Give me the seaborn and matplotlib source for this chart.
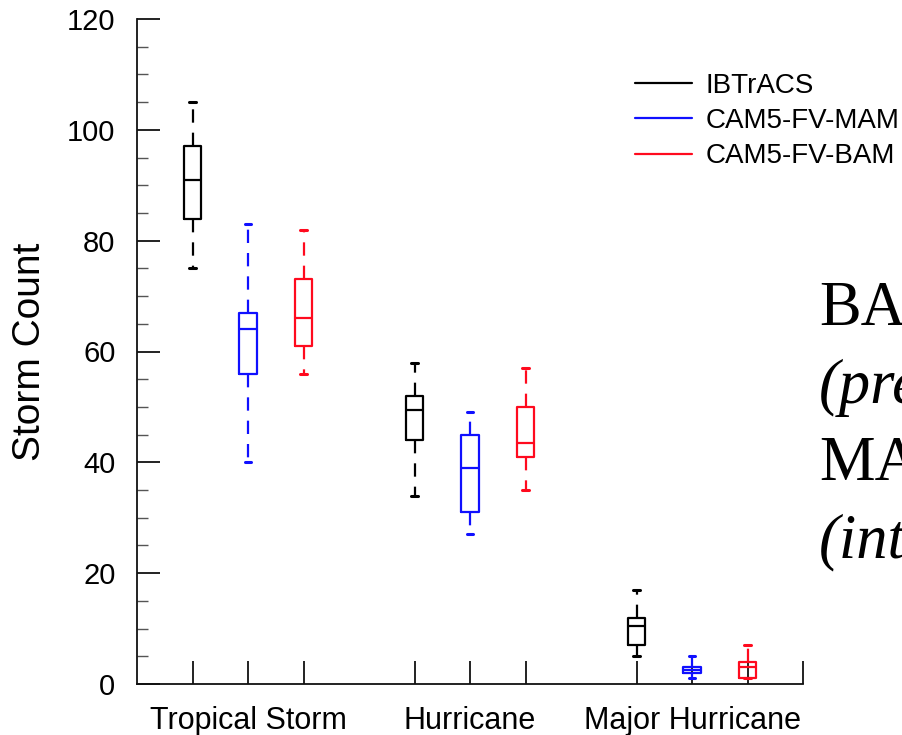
import numpy as np
import pandas as pd
import matplotlib
matplotlib.use("Agg")
import matplotlib.pyplot as plt
from matplotlib.lines import Line2D
import seaborn as sns

# summary stats (whisker low, q1, median, q3, whisker high)
categories = ["Tropical Storm", "Hurricane", "Major Hurricane"]
datasets = ["IBTrACS", "CAM5-FV-MAM", "CAM5-FV-BAM"]
colors = ["black", "#1010ff", "#ff0a1e"]

ibtracs_stats = [[75, 84, 91, 97, 105], [34, 44, 49.5, 52, 58], [5, 7, 10.5, 12, 17]]
mam_stats = [[40, 56, 64, 67, 83], [27, 31, 39, 45, 49], [1, 2, 2.5, 3, 5]]
bam_stats = [[56, 61, 66, 73, 82], [35, 41, 43.5, 50, 57], [1, 1, 3, 4, 7]]

rows = []
for name, stats in zip(datasets, [ibtracs_stats, mam_stats, bam_stats]):
    for cat, five in zip(categories, stats):
        for v in five:
            rows.append({"category": cat, "dataset": name, "count": v})
df = pd.DataFrame(rows)

sns.set_style("ticks")
plt.rcParams["font.family"] = ["Liberation Sans", "DejaVu Sans"]
plt.rcParams["text.color"] = "black"
plt.rcParams["axes.labelcolor"] = "black"
plt.rcParams["xtick.color"] = "black"
plt.rcParams["ytick.color"] = "black"

fig = plt.figure(figsize=(9.02, 7.35), dpi=100)
ax = fig.add_axes([137 / 902, 51 / 735, 666 / 902, 665 / 735])

sns.boxplot(data=df, x="category", y="count", hue="dataset", order=categories,
            hue_order=datasets, palette=colors, whis=(0, 100), fill=False,
            width=0.75, gap=0.69, linewidth=1.6, legend=False, capwidths=0.03,
            whiskerprops=dict(linestyle=(0, (6, 4.5))),
            capprops=dict(linewidth=2.2), ax=ax)

ax.set_xlim(-0.5, 2.5)
ax.set_ylim(0, 120)
sns.despine(ax=ax)
for s in ["left", "bottom"]:
    ax.spines[s].set_linewidth(1.3)
    ax.spines[s].set_color("#111111")

ax.set_xticks([0, 1, 2])
ax.set_xticklabels(categories, fontsize=22)
ax.set_xticks([-0.25, 0.25, 0.75, 1.25, 1.75, 2.25, 2.5], minor=True)
ax.tick_params(axis="x", which="both", direction="in", length=16.5, width=1.3,
               color="#111111", pad=16)
ax.set_yticks(np.arange(0, 121, 20))
ax.set_yticks(np.arange(0, 121, 5), minor=True)
ax.tick_params(axis="y", which="major", direction="in", length=16.5, width=1.3,
               color="#111111", labelsize=21, pad=15.5)
ax.tick_params(axis="y", which="minor", direction="in", length=8, width=1,
               color="#555555")
ax.set_xlabel("")
ax.set_ylabel("Storm Count", fontsize=28, labelpad=14)

handles = [Line2D([], [], color=c, lw=1.6) for c in colors]
ax.legend(handles, datasets, loc="upper left", bbox_to_anchor=(635 / 902, 1 - 73 / 735),
          bbox_transform=fig.transFigure, frameon=False, fontsize=20,
          handlelength=2.05, handletextpad=0.5, borderpad=0, borderaxespad=0,
          labelspacing=0.33)

# annotation text on the right (cut off by the figure edge, as in the source)
serif = ["Liberation Serif", "DejaVu Serif"]
notes = [("BA", "normal", 325), ("(pre", "italic", 402.5), ("MA", "normal", 480), ("(int", "italic", 557.5)]
for txt, style, base in notes:
    fig.text(819 / 902, 1 - base / 735, txt, fontsize=45, family=serif,
             style=style, va="baseline", ha="left", color="black")

fig.savefig("out.png", dpi=100)
